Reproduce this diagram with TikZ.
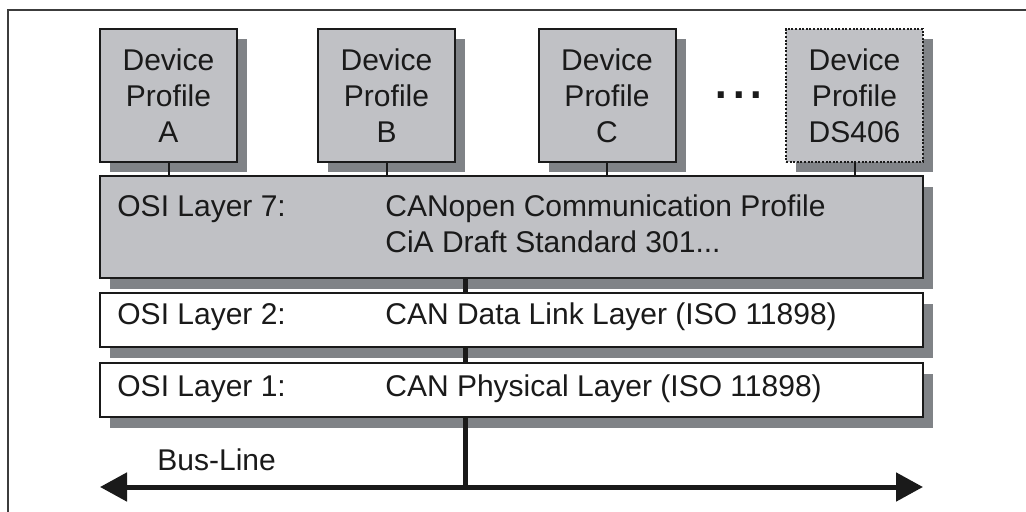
\documentclass[tikz,border=0pt]{standalone}
\usepackage{fontspec}
\setmainfont{Liberation Sans}
\usetikzlibrary{arrows.meta,shadows}

\definecolor{boxgray}{RGB}{192,193,197}
\definecolor{shadegray}{RGB}{128,131,135}
\definecolor{inkblack}{RGB}{26,26,26}

\begin{document}
\begin{tikzpicture}
  [x=0.5pt,y=-0.5pt,every node/.style={text=inkblack}]
 \tikzset{profile/.style = {draw=inkblack,line width=1pt,fill=boxgray,
     minimum width=68.5pt,minimum height=66.5pt,inner sep=0pt,align=center,
     font=\fontsize{15}{18}\selectfont,
     drop shadow={shadow xshift=5pt,shadow yshift=-5pt,fill=shadegray,opacity=1}},
   layerbox/.style = {draw=inkblack,line width=1pt,minimum width=411.5pt,inner sep=0pt,
     drop shadow={shadow xshift=5pt,shadow yshift=-5.5pt,fill=shadegray,opacity=1}},
   txt/.style = {inner sep=0pt,font=\fontsize{15}{18}\selectfont},
   link/.style = {draw=inkblack,line width=1pt},
   bus/.style = {draw=inkblack,line width=2.5pt},
   edge/.style = {bus,{Triangle[length=13.5pt,width=14pt]}-{Triangle[length=13.5pt,width=14pt]}}}
  \useasboundingbox (0,0) rectangle (1026,512);
  % frame
  \draw[inkblack!85,line width=0.75pt] (1026,10) -- (8,10) -- (8,512);

  \node[profile] (A) at (168.5,95.5) {Device\\Profile\\A};
  \node[profile] (B) at (386.5,95.5) {Device\\Profile\\B};
  \node[profile] (C) at (607,95.5)   {Device\\Profile\\C};
  \node[profile,dash pattern=on 1pt off 0.8pt] (DS) at (854.5,95.5) {Device\\Profile\\DS406};
  \node[inner sep=0pt,font=\fontsize{31.5}{36}\selectfont,anchor=base] (dots) at (739,99) {...};

  \node[layerbox,fill=boxgray,minimum height=51pt] (L7) at (511.5,227) {};
  \node[layerbox,fill=white,minimum height=27pt] (L2) at (511.5,320) {};
  \node[layerbox,fill=white,minimum height=27pt] (L1) at (511.5,390) {};

  \node[txt,anchor=base west] (L7a) at (117,217) {OSI Layer 7:};
  \node[txt,anchor=base west] (L7b) at (385,217) {CANopen Communication Profile};
  \node[txt,anchor=base west] (L7c) at (385,253) {CiA Draft Standard 301...};
  \node[txt,anchor=base west] (L2a) at (117,325) {OSI Layer 2:};
  \node[txt,anchor=base west] (L2b) at (385,325) {CAN Data Link Layer (ISO 11898)};
  \node[txt,anchor=base west] (L1a) at (117,397) {OSI Layer 1:};
  \node[txt,anchor=base west] (L1b) at (385,397) {CAN Physical Layer (ISO 11898)};
  \node[txt,anchor=base west] (busname) at (157,470) {Bus-Line};

  \coordinate (tap) at (465,487);
  \coordinate (busL) at (100,487);
  \coordinate (busR) at (923,487);

  \foreach \dev in {A,B,C,DS}
    \draw[link] (\dev.south) -- (\dev.south |- L7.north);
  \foreach \from/\to in {L7/L2,L2/L1}
    \draw[bus] (\from.south -| tap) -- (\to.north -| tap);
  \draw[bus] (L1.south -| tap) -- (tap);
  \draw[edge] (busL) -- (busR);

\end{tikzpicture}
\end{document}
